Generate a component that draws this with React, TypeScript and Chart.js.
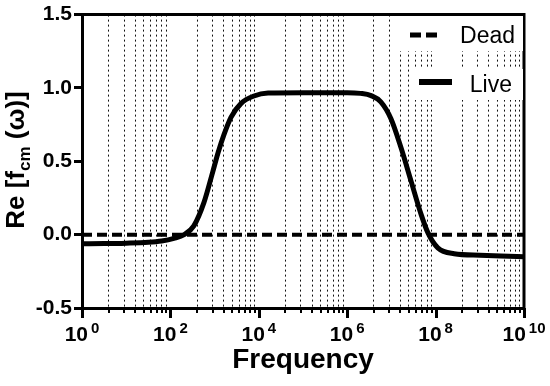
import React, { useEffect, useRef } from "react";
import { Chart, registerables } from "chart.js";

Chart.register(...registerables);

// ---- data ----
const seriesLabels = ["Dead", "Live"];
const deadFreqExp = [0, 10];
const deadValues = [0, 0];
const liveFreqExp = [0, 0.5, 1.0, 1.5, 1.8, 2.08, 2.31, 2.53, 2.76, 2.96, 3.08, 3.21, 3.37, 3.6, 3.89, 4.21, 5.0, 6.0, 6.3, 6.54, 6.76, 6.99, 7.22, 7.44, 7.67, 7.83, 8.05, 8.42, 9.0, 9.48, 10.0];
const liveValues = [-0.062, -0.061, -0.058, -0.052, -0.043, -0.025, 0.0, 0.06, 0.22, 0.43, 0.56, 0.68, 0.8, 0.895, 0.945, 0.965, 0.968, 0.968, 0.963, 0.948, 0.905, 0.79, 0.59, 0.37, 0.14, 0.01, -0.09, -0.13, -0.14, -0.145, -0.15];
const yTicks = [-0.5, 0, 0.5, 1.0, 1.5];
const xMajorExp = [0, 2, 4, 6, 8, 10];
const xMinorFactors = [4, 9, 16, 25, 36, 49, 64, 81];
const xTitle = "Frequency";
const yTitleMain1 = "Re [f";
const yTitleSub = "cm";
const yTitleMain2 = " (\u03c9)]";

const FONT = "'Liberation Sans', Arial, Helvetica, sans-serif";

function minorTickValues(): number[] {
  const out: number[] = [];
  for (let i = 0; i < xMajorExp.length - 1; i++) {
    const base = Math.pow(10, xMajorExp[i]);
    for (const f of xMinorFactors) out.push(base * f);
  }
  return out;
}

const overlayPlugin = {
  id: "overlay",
  afterDraw(chart: any) {
    const ctx = chart.ctx as CanvasRenderingContext2D;
    const area = chart.chartArea;
    const xs = chart.scales.x;
    ctx.save();
    // frame top & right
    ctx.strokeStyle = "#000";
    ctx.lineWidth = 3;
    ctx.beginPath();
    ctx.moveTo(area.left - 1.5, area.top);
    ctx.lineTo(area.right, area.top);
    ctx.lineTo(area.right, area.bottom + 1.5);
    ctx.stroke();

    // x tick marks
    ctx.lineWidth = 2;
    for (const v of minorTickValues()) {
      const px = Math.round(xs.getPixelForValue(v));
      ctx.beginPath();
      ctx.moveTo(px, area.bottom);
      ctx.lineTo(px, area.bottom + 5);
      ctx.stroke();
    }
    ctx.lineWidth = 3;
    for (const e of xMajorExp) {
      const px = Math.round(xs.getPixelForValue(Math.pow(10, e))) + 0.5;
      ctx.beginPath();
      ctx.moveTo(px, area.bottom);
      ctx.lineTo(px, area.bottom + 10);
      ctx.stroke();
    }

    // x tick labels 10^n
    ctx.fillStyle = "#000";
    ctx.textBaseline = "alphabetic";
    ctx.textAlign = "left";
    for (const e of xMajorExp) {
      const px = xs.getPixelForValue(Math.pow(10, e));
      const baseFont = `bold 21px ${FONT}`;
      const expFont = `bold 15px ${FONT}`;
      ctx.font = baseFont;
      const w1 = ctx.measureText("10").width;
      ctx.font = expFont;
      const expText = String(e);
      const w2 = ctx.measureText(expText).width;
      const gap = 3;
      const start = px - (w1 + gap + w2) / 2;
      ctx.font = baseFont;
      ctx.fillText("10", start, 341);
      ctx.font = expFont;
      ctx.fillText(expText, start + w1 + gap, 333);
    }

    // y title with subscript
    const mainFont = `bold 26px ${FONT}`;
    const subFont = `bold 17px ${FONT}`;
    ctx.font = mainFont;
    const a = ctx.measureText(yTitleMain1).width;
    const c = ctx.measureText(yTitleMain2).width;
    ctx.font = subFont;
    const b = ctx.measureText(yTitleSub).width;
    const total = a + b + c;
    ctx.translate(24, 160);
    ctx.rotate(-Math.PI / 2);
    let x0 = -total / 2;
    ctx.font = mainFont;
    ctx.fillText(yTitleMain1, x0, 0);
    x0 += a;
    ctx.font = subFont;
    ctx.fillText(yTitleSub, x0, 6);
    x0 += b;
    ctx.font = mainFont;
    ctx.fillText(yTitleMain2, x0, 0);
    ctx.restore();

    // legend
    ctx.save();
    ctx.fillStyle = "#fff";
    ctx.fillRect(392, 16, 131, 35);
    ctx.fillRect(413, 69, 110, 31);
    ctx.strokeStyle = "#000";
    ctx.lineWidth = 5;
    ctx.setLineDash([11, 5]);
    ctx.beginPath();
    ctx.moveTo(410, 35);
    ctx.lineTo(437, 35);
    ctx.stroke();
    ctx.setLineDash([]);
    ctx.lineWidth = 6;
    ctx.beginPath();
    ctx.moveTo(419, 82);
    ctx.lineTo(452, 82);
    ctx.stroke();
    ctx.fillStyle = "#000";
    ctx.font = `23px ${FONT}`;
    ctx.textAlign = "right";
    ctx.textBaseline = "alphabetic";
    ctx.fillText(seriesLabels[0], 515, 43);
    ctx.fillText(seriesLabels[1], 512, 92);
    ctx.restore();
  },
};

export default function App() {
  const ref = useRef<HTMLCanvasElement | null>(null);
  useEffect(() => {
    if (!ref.current) return;
    const chart = new Chart(ref.current, {
      type: "line",
      data: {
        datasets: [
          {
            label: seriesLabels[0],
            data: deadFreqExp.map((e, i) => ({ x: Math.pow(10, e), y: deadValues[i] })),
            borderColor: "#000",
            borderWidth: 4,
            borderDash: [10, 5],
            pointRadius: 0,
            fill: false,
          },
          {
            label: seriesLabels[1],
            data: liveFreqExp.map((e, i) => ({ x: Math.pow(10, e), y: liveValues[i] })),
            borderColor: "#000",
            borderWidth: 5,
            pointRadius: 0,
            fill: false,
            cubicInterpolationMode: "monotone",
          },
        ],
      },
      options: {
        responsive: false,
        animation: false,
        layout: { padding: { top: 14, right: 26, left: 0, bottom: 0 } },
        plugins: { legend: { display: false }, tooltip: { enabled: false } },
        scales: {
          x: {
            type: "logarithmic",
            min: 1,
            max: 1e10,
            afterBuildTicks: (scale: any) => {
              const ticks: any[] = [];
              for (const e of xMajorExp) ticks.push({ value: Math.pow(10, e), major: true });
              for (const v of minorTickValues()) ticks.push({ value: v, major: false });
              ticks.sort((p, q) => p.value - q.value);
              scale.ticks = ticks;
            },
            ticks: { display: false },
            grid: {
              drawTicks: false,
              color: "#111",
              lineWidth: (c: any) => (c.tick && c.tick.major ? 0 : 1),
            },
            border: { display: true, color: "#000", width: 3, dash: [2, 3] },
            title: {
              display: true,
              text: xTitle,
              color: "#000",
              font: { family: FONT, size: 28, weight: "bold" },
              padding: { top: 0, bottom: 9 },
            },
            afterFit: (scale: any) => {
              scale.height = 78;
            },
          },
          y: {
            min: -0.5,
            max: 1.5,
            afterBuildTicks: (scale: any) => {
              scale.ticks = yTicks.map((v) => ({ value: v }));
            },
            ticks: {
              callback: (v: any) => Number(v).toFixed(1),
              color: "#000",
              font: { family: FONT, size: 21, weight: "bold" },
              padding: 2,
            },
            grid: {
              drawOnChartArea: false,
              drawTicks: true,
              tickLength: 8,
              tickWidth: 3,
              tickColor: "#000",
              color: "#000",
            },
            border: { display: true, color: "#000", width: 3 },
            afterFit: (scale: any) => {
              scale.width = 82;
            },
          },
        },
      },
      plugins: [overlayPlugin],
    } as any);
    return () => chart.destroy();
  }, []);
  return (
    <div style={{ position: "absolute", left: 0, top: 0, width: 550, height: 386, background: "#fff" }}>
      <canvas ref={ref} width={550} height={386} style={{ display: "block" }} />
    </div>
  );
}
